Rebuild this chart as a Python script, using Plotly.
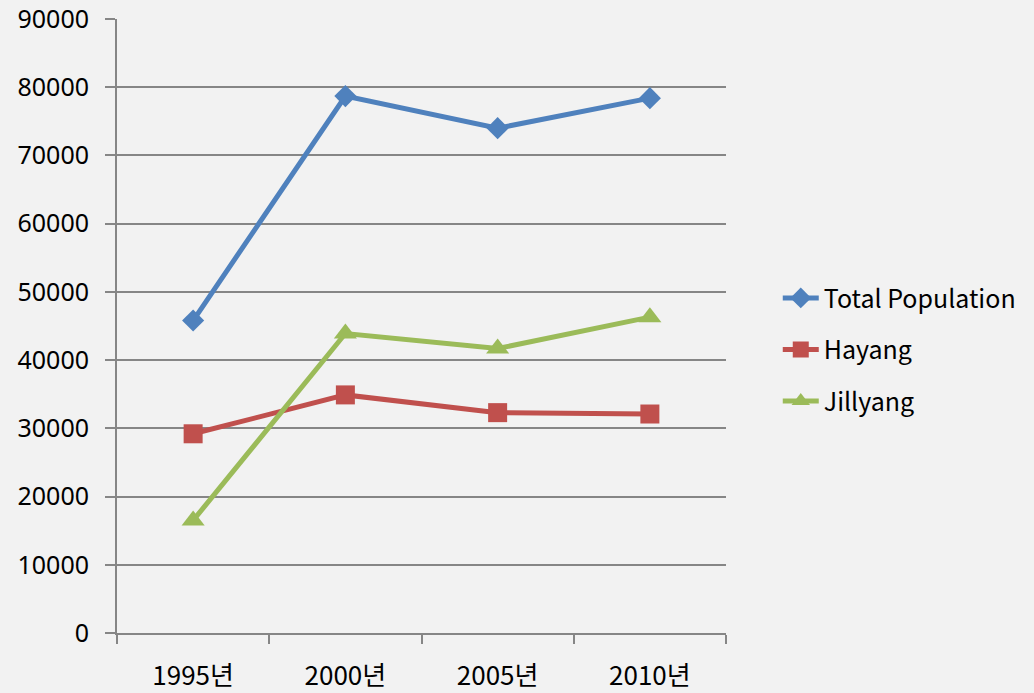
import plotly.graph_objects as go

years = ["1995년", "2000년", "2005년", "2010년"]
total_population = [45800, 78700, 74000, 78400]
hayang = [29200, 34900, 32300, 32100]
jillyang = [16500, 43900, 41700, 46300]
y_ticks = [0, 10000, 20000, 30000, 40000, 50000, 60000, 70000, 80000, 90000]

font_family = "Noto Sans CJK KR, Noto Sans, sans-serif"

fig = go.Figure()
series = [
    ("Total Population", total_population, "#4F81BD", "diamond", 17),
    ("Hayang", hayang, "#C0504D", "square", 19),
    ("Jillyang", jillyang, "#9BBB59", "triangle-up", 20),
]
for i, (name, vals, color, sym, size) in enumerate(series):
    fig.add_trace(go.Scatter(
        x=years, y=vals, name=name, mode="lines+markers",
        line=dict(color=color, width=5),
        marker=dict(symbol=sym, size=size, color=color),
        legendgroup=f"g{i}",
    ))

fig.update_layout(
    width=1034, height=693,
    paper_bgcolor="#F2F2F2", plot_bgcolor="#F2F2F2",
    margin=dict(l=117, r=308, t=19, b=60),
    font=dict(family=font_family, size=26, color="#000000"),
    showlegend=True,
    legend=dict(x=1.085, y=0.4615, xanchor="left", yanchor="middle",
                bgcolor="rgba(0,0,0,0)", tracegroupgap=16, itemwidth=36,
                borderwidth=0, font=dict(size=25)),
    xaxis=dict(type="category", tickson="boundaries", ticks="outside",
               ticklen=9, tickcolor="#868686", tickwidth=2,
               showline=True, linecolor="#868686", linewidth=2,
               showgrid=False, ticklabelstandoff=19, automargin=False,
               ticklabeloverflow="allow", range=[-0.5, 3.5]),
    yaxis=dict(range=[0, 90000], tickvals=y_ticks, ticktext=[str(v) for v in y_ticks],
               tickfont=dict(family="Noto Sans, sans-serif", size=25),
               ticks="outside", ticklen=10, tickcolor="#868686", tickwidth=2,
               showline=True, linecolor="#868686", linewidth=2,
               showgrid=True, gridcolor="#868686", gridwidth=2,
               zeroline=False, ticklabelstandoff=11, automargin=False,
               ticklabeloverflow="allow"),
)

fig.write_html("out.html", config={"displayModeBar": False},
               post_script="document.body.style.margin='0';")
